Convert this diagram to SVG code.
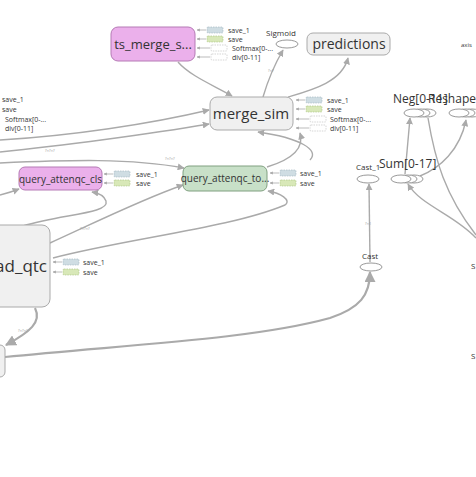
<svg xmlns="http://www.w3.org/2000/svg" width="476" height="477" viewBox="0 0 476 477">
<defs>
<style>
text{font-family:"Open Sans","DejaVu Sans",sans-serif;fill:#333}
.gray{fill:#f0f0f0;stroke:#aaa;stroke-width:1}
.pink{fill:#ebb0eb;stroke:#b57ab5;stroke-width:1}
.green{fill:#c8e0c8;stroke:#80a080;stroke-width:1}
.op{fill:#fff;stroke:#999;stroke-width:1}
.edge{fill:none;stroke:#aaa;stroke-width:1.4}
.thick{stroke-width:2.2}
.lbl{font-size:7px}
.el{font-size:4px;fill:#999}
.s1{fill:#cfdde3;stroke:#9fb4be;stroke-width:.6;stroke-dasharray:1.5 1}
.s0{fill:#d8e8b8;stroke:#a6c07c;stroke-width:.6;stroke-dasharray:1.5 1}
.sd{fill:#fff;stroke:#bbb;stroke-width:.6;stroke-dasharray:1.5 1}
.ar{fill:none;stroke:#aaa;stroke-width:.8}
</style>
<marker id="ah" viewBox="0 0 10 10" refX="9" refY="5" markerWidth="5" markerHeight="5" orient="auto"><path d="M0,0 L10,5 L0,10 z" fill="#aaa"/></marker>
<marker id="as" viewBox="0 0 10 10" refX="1" refY="5" markerWidth="4" markerHeight="4" orient="auto"><path d="M10,0 L0,5 L10,10 z" fill="#aaa"/></marker>
<g id="r1"><path class="ar" d="M0,0 H9" marker-start="url(#as)"/><rect class="s1" x="10" y="-3" width="16" height="6" rx="1"/></g>
<g id="r0"><path class="ar" d="M0,0 H9" marker-start="url(#as)"/><rect class="s0" x="10" y="-3" width="16" height="6" rx="1"/></g>
<g id="rd"><path class="ar" d="M0,0 H13" marker-start="url(#as)"/><rect class="sd" x="14" y="-3" width="16" height="6" rx="1"/></g>
</defs>
<rect width="476" height="477" fill="#fff"/>

<g id="connectors">
<path class="edge" d="M178,62 C190,76 215,86 232,96" marker-end="url(#ah)"/>
<path class="edge" d="M263,97 C268,80 276,62 283,50" marker-end="url(#ah)"/>
<path class="edge" d="M288,97 C312,90 342,82 348,58" marker-end="url(#ah)"/>
<path class="edge" d="M0,152 C60,146 150,134 209,124" marker-end="url(#ah)"/>
<path class="edge" d="M0,140 C70,136 150,124 209,110" marker-end="url(#ah)"/>
<path class="edge" d="M0,163 C70,160 130,158 184,168" marker-end="url(#ah)"/>
<path class="edge" d="M0,195 C8,193 14,191 19,189" marker-end="url(#ah)"/>
<path class="edge" d="M23,226 C60,214 110,214 106,201 C104,195 98,193 92,192" marker-end="url(#ah)"/>
<path class="edge" d="M50,243 C90,225 140,200 183,185" marker-end="url(#ah)"/>
<path class="edge" d="M53,258 C130,238 230,228 285,205 C292,200 280,193 268,191" marker-end="url(#ah)"/>
<path class="edge thick" d="M35,308 C42,322 30,332 6,345" marker-end="url(#ah)"/>
<path class="edge thick" d="M5,357 C120,345 250,340 330,318 C360,308 370,295 370,272" marker-end="url(#ah)"/>
<path class="edge" d="M370,262 L369,184" marker-end="url(#ah)"/>
<path class="edge" d="M405,174 L410,118" marker-end="url(#ah)"/>
<path class="edge" d="M420,176 C440,168 460,150 466,120" marker-end="url(#ah)"/>
<path class="edge" d="M476,238 C455,215 420,205 408,184" marker-end="url(#ah)"/>
<path class="edge" d="M428,118 C435,160 445,195 476,235"/>
<path class="edge" d="M267,167 C290,160 305,150 300,133" marker-end="url(#ah)"/>
<path class="edge" d="M310,160 C320,150 300,138 258,132" marker-end="url(#ah)"/>
<text class="el" x="268" y="72">?×?</text>
<text class="el" x="45" y="152">?×?×?</text>
<text class="el" x="165" y="160">?×?×?</text>
<text class="el" x="25" y="230">?×?×?</text>
<text class="el" x="80" y="230">?×?×?</text>
<text class="el" x="18" y="332">?×?×?</text>
<text class="el" x="365" y="225">?×1</text>
</g>

<g id="ts_merge_s">
<rect class="pink" x="111" y="27" width="84" height="34" rx="7"/>
<text x="153" y="49" font-size="13" text-anchor="middle">ts_merge_s...</text>
<use href="#r1" x="197" y="30"/><text class="lbl" x="228" y="32.5">save_1</text>
<use href="#r0" x="197" y="39"/><text class="lbl" x="228" y="41.5">save</text>
<use href="#rd" x="197" y="48"/><text class="lbl" x="232" y="50.5">Softmax[0-...</text>
<use href="#rd" x="197" y="57"/><text class="lbl" x="232" y="59.5">div[0-11]</text>
</g>

<g id="sigmoid">
<text x="281" y="36" font-size="8" text-anchor="middle">Sigmoid</text>
<ellipse class="op" cx="287" cy="44" rx="11" ry="4"/>
</g>

<g id="predictions">
<rect class="gray" x="307" y="33" width="83" height="22" rx="6"/>
<text x="349" y="49" font-size="14" text-anchor="middle">predictions</text>
</g>

<g id="axis"><text x="461" y="47" font-size="6">axis</text></g>

<g id="left_labels">
<text class="lbl" x="2" y="102">save_1</text>
<text class="lbl" x="2" y="112">save</text>
<text class="lbl" x="5" y="122">Softmax[0-...</text>
<text class="lbl" x="5" y="131">div[0-11]</text>
</g>

<g id="merge_sim">
<rect class="gray" x="210" y="97" width="83" height="33" rx="7"/>
<text x="251" y="119" font-size="15" text-anchor="middle">merge_sim</text>
<use href="#r1" x="296" y="100"/><text class="lbl" x="327" y="102.5">save_1</text>
<use href="#r0" x="296" y="109"/><text class="lbl" x="327" y="111.5">save</text>
<use href="#rd" x="296" y="119"/><text class="lbl" x="330" y="121.5">Softmax[0-...</text>
<use href="#rd" x="296" y="128"/><text class="lbl" x="330" y="130.5">div[0-11]</text>
</g>

<g id="neg">
<text x="393" y="103" font-size="12">Neg[0-11]</text>
<ellipse class="op" cx="427" cy="113" rx="9" ry="4"/>
<ellipse class="op" cx="421" cy="113" rx="9" ry="4"/>
<ellipse class="op" cx="414" cy="113" rx="10" ry="4"/>
</g>

<g id="reshape">
<text x="428" y="103" font-size="12">Reshape</text>
<ellipse class="op" cx="472" cy="113" rx="9" ry="4"/>
<ellipse class="op" cx="466" cy="113" rx="9" ry="4"/>
<ellipse class="op" cx="459" cy="113" rx="10" ry="4"/>
</g>

<g id="cast_1">
<text x="356" y="170" font-size="8">Cast_1</text>
<ellipse class="op" cx="368" cy="179" rx="11" ry="4"/>
</g>

<g id="sum">
<text x="379" y="168" font-size="12">Sum[0-17]</text>
<ellipse class="op" cx="414" cy="179" rx="9" ry="4"/>
<ellipse class="op" cx="408" cy="179" rx="9" ry="4"/>
<ellipse class="op" cx="401" cy="179" rx="10" ry="4"/>
</g>

<g id="query_attenqc_cls">
<rect class="pink" x="19" y="167" width="83" height="23" rx="6"/>
<text x="60.5" y="182.5" font-size="10" text-anchor="middle">query_attenqc_cls</text>
<use href="#r1" x="104" y="174"/><text class="lbl" x="136" y="176.5">save_1</text>
<use href="#r0" x="104" y="183"/><text class="lbl" x="136" y="185.5">save</text>
</g>

<g id="query_attenqc_to">
<rect class="green" x="183" y="166" width="84" height="25" rx="6"/>
<text x="225" y="182" font-size="10" text-anchor="middle">query_attenqc_to...</text>
<use href="#r1" x="270" y="173"/><text class="lbl" x="300" y="175.5">save_1</text>
<use href="#r0" x="270" y="183"/><text class="lbl" x="300" y="185.5">save</text>
</g>

<g id="ad_qtc">
<rect class="gray" x="-12" y="225" width="62" height="82" rx="8"/>
<text x="47" y="272" font-size="17" text-anchor="end">ad_qtc</text>
<use href="#r1" x="53" y="262"/><text class="lbl" x="83" y="264.5">save_1</text>
<use href="#r0" x="53" y="272"/><text class="lbl" x="83" y="274.5">save</text>
</g>

<g id="cast">
<text x="362" y="259" font-size="8">Cast</text>
<ellipse class="op" cx="371" cy="267" rx="11" ry="4"/>
</g>

<g id="bottom_left">
<rect class="gray" x="-10" y="345" width="15" height="32" rx="5"/>
</g>

<g id="right_edge">
<text x="471" y="269" font-size="8">S</text>
<text x="471" y="359" font-size="8">S</text>
</g>
</svg>
